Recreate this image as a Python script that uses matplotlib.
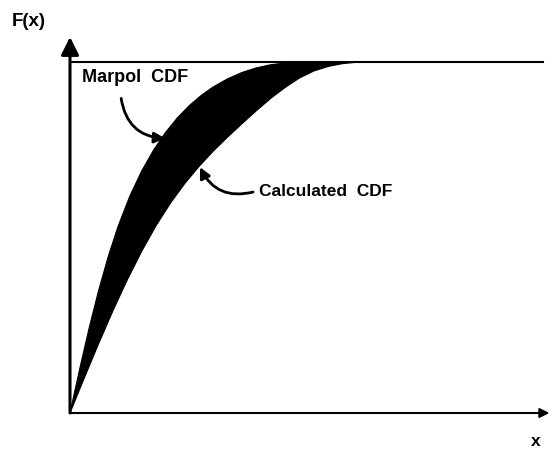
import numpy as np
import matplotlib.pyplot as plt

# ---- curve data (x in arbitrary units, F(x) from 0 to 1) ----
marpol_x = [0, 2, 4, 6, 8, 10, 12.5, 15, 17.5, 20, 22.5, 25, 27.5, 30,
            33, 36, 39, 42, 45, 48]
marpol_F = [0, 0.124, 0.242, 0.350, 0.446, 0.530, 0.618, 0.690, 0.750,
            0.800, 0.842, 0.877, 0.906, 0.930, 0.953, 0.971, 0.984, 0.993,
            0.998, 1.0]

calc_x = [0, 3, 6, 9, 12, 15, 18, 21, 24, 27, 30, 33, 36, 39, 42, 45,
          48, 51, 54, 57, 60]
calc_F = [0, 0.100, 0.198, 0.292, 0.380, 0.461, 0.534, 0.598, 0.654,
          0.703, 0.747, 0.787, 0.825, 0.862, 0.897, 0.928, 0.955, 0.975,
          0.988, 0.996, 1.0]

x_max = 100
y_top = 1.072

fig = plt.figure(figsize=(5.49, 4.49), dpi=100)
ax = fig.add_axes([70 / 549, 36 / 449, 478 / 549, 376 / 449])
ax.set_xlim(0, x_max)
ax.set_ylim(0, y_top)
ax.axis("off")

# band between the two CDFs
band_x = np.concatenate([marpol_x, calc_x[::-1]])
band_y = np.concatenate([marpol_F, calc_F[::-1]])
ax.fill(band_x, band_y, color="black", lw=0.8, ec="black")

# F = 1 level
ax.plot([0, 99], [1, 1], color="black", lw=1.5, clip_on=False)

# axes with arrow heads
ax.annotate("", xy=(0, y_top), xytext=(0, 0),
            arrowprops=dict(arrowstyle="-|>,head_length=0.6,head_width=0.3",
                            color="black", lw=2.2, mutation_scale=18,
                            shrinkA=0, shrinkB=0),
            annotation_clip=False)
ax.annotate("", xy=(100.3, 0), xytext=(0, 0),
            arrowprops=dict(arrowstyle="-|>", color="black", lw=1.5,
                            mutation_scale=14, shrinkA=0, shrinkB=0),
            annotation_clip=False)

font = ["Liberation Sans", "DejaVu Sans"]
fig.text(12 / 549, 1 - 21 / 449, "F(x)", family=font, fontweight="bold",
         fontsize=13.5, ha="left", va="center")
fig.text(536 / 549, 1 - 441 / 449, "x", family=font, fontweight="bold",
         fontsize=12.5, ha="center", va="center")

ax.text(2.5, 0.957, "Marpol  CDF", family=font, fontweight="bold",
        fontsize=13, ha="left", va="center")
ax.text(39.5, 0.632, "Calculated  CDF", family=font, fontweight="bold",
        fontsize=12.5, ha="left", va="center")

# pointer arrows
ax.annotate("", xy=(19.9, 0.783), xytext=(10.7, 0.897),
            arrowprops=dict(arrowstyle="-|>", color="black", lw=2,
                            mutation_scale=16, shrinkA=0, shrinkB=0,
                            connectionstyle="arc3,rad=0.4"))
ax.annotate("", xy=(27.2, 0.701), xytext=(38.3, 0.630),
            arrowprops=dict(arrowstyle="-|>", color="black", lw=2,
                            mutation_scale=16, shrinkA=0, shrinkB=0,
                            connectionstyle="arc3,rad=-0.4"))

fig.savefig("out.png", dpi=100)
